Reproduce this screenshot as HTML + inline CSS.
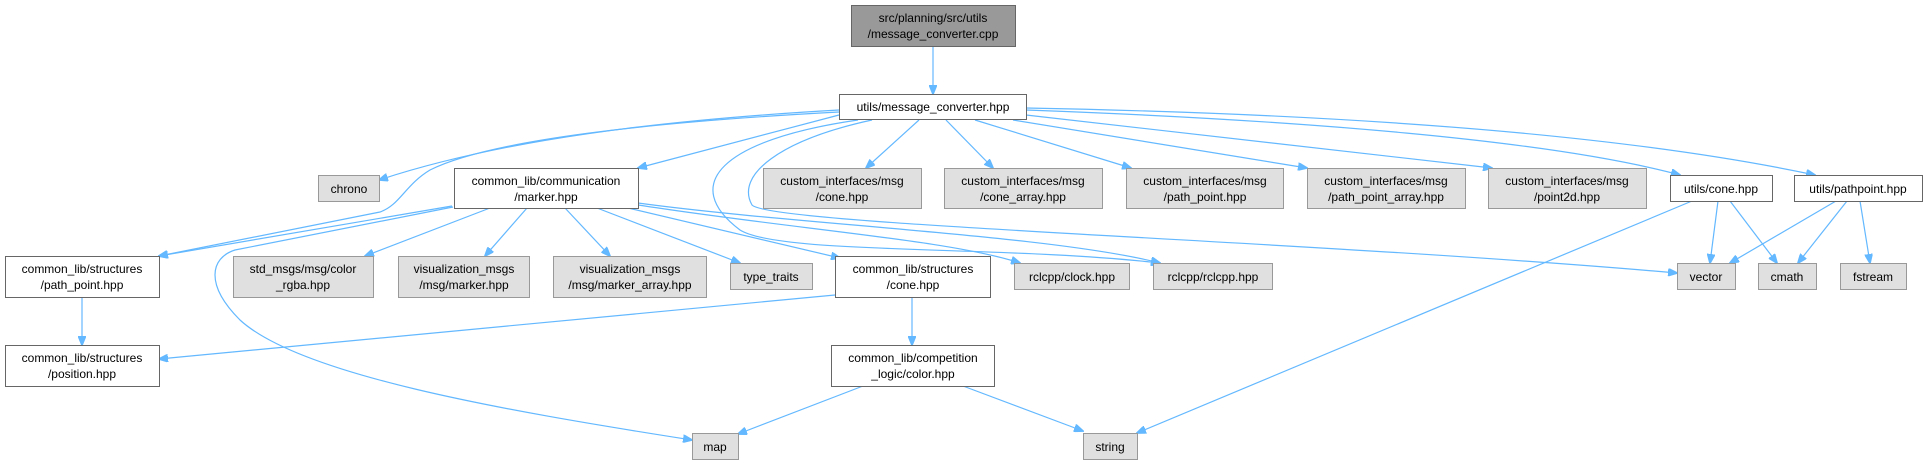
<!DOCTYPE html>
<html><head><meta charset="utf-8"><style>
html,body{margin:0;padding:0;background:#fff;width:1927px;height:465px;overflow:hidden}
svg text{font-family:"Liberation Sans",Arial,sans-serif;font-size:12px;fill:#000;text-anchor:middle}
.w{fill:#fff;stroke:#666;stroke-width:1}
.g{fill:#e0e0e0;stroke:#999;stroke-width:1}
.t{fill:#999;stroke:#666;stroke-width:1}
.e{fill:none;stroke:#63b8ff;stroke-width:1.2}
</style></head><body>
<svg width="1927" height="465" viewBox="0 0 1927 465" xmlns="http://www.w3.org/2000/svg">
<defs><marker id="a" markerWidth="10" markerHeight="8" refX="9" refY="4" orient="auto" markerUnits="userSpaceOnUse"><path d="M0,0 L10,4 L0,8 z" fill="#63b8ff" stroke="#63b8ff"/></marker></defs>
<g class="e" marker-end="url(#a)">
<path d="M933,46 L933,94"/>
<path d="M839,110 C660,120 500,140 379,180"/>
<path d="M839,115 L638,168"/>
<path d="M839,112 C650,122 490,140 430,170 C405,185 400,205 380,212 L159,256"/>
<path d="M919,120 L866,168"/>
<path d="M946,120 L993,168"/>
<path d="M975,120 L1131,168"/>
<path d="M1013,120 L1307,168"/>
<path d="M1026,115 L1492,168"/>
<path d="M1026,110 C1300,120 1550,140 1680,175"/>
<path d="M1026,108 C1400,115 1650,140 1815,175"/>
<path d="M872,120 C780,140 735,175 752,205 C770,225 1300,240 1677,273"/>
<path d="M858,120 C720,140 680,185 740,230 C780,255 1000,245 1160,263"/>
<path d="M452,206 L159,256"/>
<path d="M453,207 L235,250 C210,258 205,285 240,320 C300,375 500,410 692,440"/>
<path d="M490,208 L365,256"/>
<path d="M527,208 L485,256"/>
<path d="M565,208 L610,256"/>
<path d="M597,208 L740,263"/>
<path d="M628,208 L840,258"/>
<path d="M638,205 C800,230 950,240 1020,263"/>
<path d="M638,203 C800,225 1050,235 1160,263"/>
<path d="M835,295 L159,359"/>
<path d="M912,297 L912,345"/>
<path d="M863,386 L738,434"/>
<path d="M963,386 L1083,431"/>
<path d="M1692,201 L1137,433"/>
<path d="M1718,201 L1710,263"/>
<path d="M1730,201 L1777,263"/>
<path d="M1836,201 L1730,263"/>
<path d="M1847,201 L1798,263"/>
<path d="M1860,201 L1870,263"/>
<path d="M82,297 L82,345"/>
</g>
<rect class="t" x="851.5" y="5.5" width="164" height="41"/><text x="933" y="22">src/planning/src/utils</text><text x="933" y="38">/message_converter.cpp</text>
<rect class="w" x="839.5" y="94.5" width="187" height="25"/><text x="933" y="111">utils/message_converter.hpp</text>
<rect class="g" x="318.5" y="175.5" width="61" height="26"/><text x="349" y="193">chrono</text>
<rect class="w" x="454.5" y="168.5" width="184" height="40"/><text x="546" y="185">common_lib/communication</text><text x="546" y="201">/marker.hpp</text>
<rect class="g" x="763.5" y="168.5" width="158" height="40"/><text x="842" y="185">custom_interfaces/msg</text><text x="842" y="201">/cone.hpp</text>
<rect class="g" x="944.5" y="168.5" width="158" height="40"/><text x="1023" y="185">custom_interfaces/msg</text><text x="1023" y="201">/cone_array.hpp</text>
<rect class="g" x="1126.5" y="168.5" width="157" height="40"/><text x="1205" y="185">custom_interfaces/msg</text><text x="1205" y="201">/path_point.hpp</text>
<rect class="g" x="1307.5" y="168.5" width="158" height="40"/><text x="1386" y="185">custom_interfaces/msg</text><text x="1386" y="201">/path_point_array.hpp</text>
<rect class="g" x="1488.5" y="168.5" width="158" height="40"/><text x="1567" y="185">custom_interfaces/msg</text><text x="1567" y="201">/point2d.hpp</text>
<rect class="w" x="1670.5" y="175.5" width="102" height="26"/><text x="1721" y="193">utils/cone.hpp</text>
<rect class="w" x="1794.5" y="175.5" width="128" height="26"/><text x="1858" y="193">utils/pathpoint.hpp</text>
<rect class="w" x="5.5" y="256.5" width="154" height="41"/><text x="82" y="273">common_lib/structures</text><text x="82" y="289">/path_point.hpp</text>
<rect class="g" x="233.5" y="256.5" width="140" height="41"/><text x="303" y="273">std_msgs/msg/color</text><text x="303" y="289">_rgba.hpp</text>
<rect class="g" x="398.5" y="256.5" width="131" height="41"/><text x="464" y="273">visualization_msgs</text><text x="464" y="289">/msg/marker.hpp</text>
<rect class="g" x="553.5" y="256.5" width="153" height="41"/><text x="630" y="273">visualization_msgs</text><text x="630" y="289">/msg/marker_array.hpp</text>
<rect class="g" x="730.5" y="263.5" width="82" height="26"/><text x="771" y="281">type_traits</text>
<rect class="w" x="835.5" y="256.5" width="155" height="41"/><text x="913" y="273">common_lib/structures</text><text x="913" y="289">/cone.hpp</text>
<rect class="g" x="1014.5" y="263.5" width="115" height="26"/><text x="1072" y="281">rclcpp/clock.hpp</text>
<rect class="g" x="1153.5" y="263.5" width="119" height="26"/><text x="1213" y="281">rclcpp/rclcpp.hpp</text>
<rect class="g" x="1677.5" y="263.5" width="58" height="26"/><text x="1706" y="281">vector</text>
<rect class="g" x="1758.5" y="263.5" width="58" height="26"/><text x="1787" y="281">cmath</text>
<rect class="g" x="1840.5" y="263.5" width="66" height="26"/><text x="1873" y="281">fstream</text>
<rect class="w" x="5.5" y="345.5" width="154" height="41"/><text x="82" y="362">common_lib/structures</text><text x="82" y="378">/position.hpp</text>
<rect class="w" x="831.5" y="345.5" width="163" height="41"/><text x="913" y="362">common_lib/competition</text><text x="913" y="378">_logic/color.hpp</text>
<rect class="g" x="692.5" y="433.5" width="46" height="26"/><text x="715" y="451">map</text>
<rect class="g" x="1083.5" y="433.5" width="54" height="26"/><text x="1110" y="451">string</text>
</svg>
</body></html>
